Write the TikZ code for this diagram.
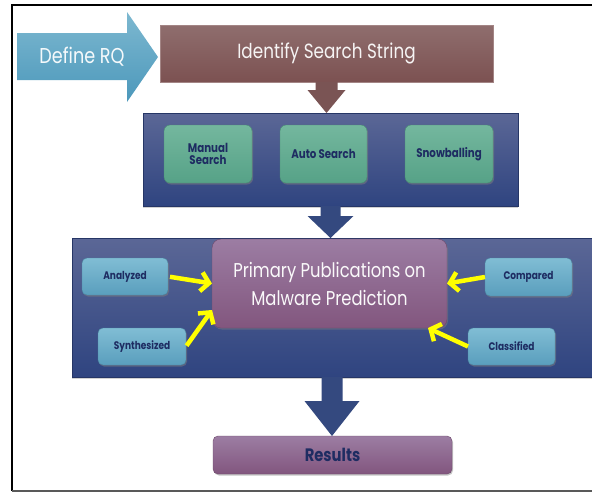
\documentclass[tikz,border=0pt]{standalone}
\usepackage{fontspec}
\newfontfamily\cg[FakeStretch=0.82]{Poppins}
\usetikzlibrary{calc,shadows,arrows.meta}
\definecolor{rqtop}{HTML}{7DB8D0}
\definecolor{rqbot}{HTML}{4C98BB}
\definecolor{brtop}{HTML}{8F6E6E}
\definecolor{brbot}{HTML}{7C5151}
\definecolor{brarrow}{HTML}{7A5454}
\definecolor{pntop}{HTML}{5B6796}
\definecolor{pnbot}{HTML}{2F4480}
\definecolor{bluearrow}{HTML}{34497F}
\definecolor{grtop}{HTML}{74B79E}
\definecolor{grbot}{HTML}{56A287}
\definecolor{pptop}{HTML}{9C7DA3}
\definecolor{ppbot}{HTML}{82567E}
\definecolor{sbtop}{HTML}{80BDD4}
\definecolor{sbbot}{HTML}{5A9EBD}
\definecolor{navy}{HTML}{1E2C62}
\definecolor{ylw}{HTML}{FFFF00}
\newcommand\blockarrow[6]{%
  \fill[#6] let \p1=(#1), \p2=(#2) in
  ({\x1-#3},\y1) -- ({\x1-#3},{\y2+#5}) -- ({\x1-#4},{\y2+#5}) -- (\x1,\y2)
  -- ({\x1+#4},{\y2+#5}) -- ({\x1+#3},{\y2+#5}) -- ({\x1+#3},\y1) -- cycle;}
\begin{document}
\begin{tikzpicture}[x=1pt,y=-1pt,
  every node/.style={inner sep=0pt, outer sep=0pt},
  panel/.style={top color=pntop, bottom color=pnbot, draw=pnbot!80!black, line width=0.4pt,
     drop shadow={shadow xshift=0pt, shadow yshift=-2pt, opacity=0.35}},
  greenbox/.style={top color=grtop, bottom color=grbot, draw=grbot!85!black, line width=0.4pt,
     rounded corners=6pt, font=\cg\bfseries\fontsize{12.5}{14}\selectfont, text=navy, align=center,
     drop shadow={shadow xshift=1pt, shadow yshift=-1.5pt, opacity=0.5}},
  smallbox/.style={top color=sbtop, bottom color=sbbot, draw=sbbot!85!black, line width=0.4pt,
     rounded corners=5pt, font=\cg\bfseries\fontsize{11}{13}\selectfont, text=navy,
     drop shadow={shadow xshift=1pt, shadow yshift=-1.5pt, opacity=0.5}},
  purplebox/.style={top color=pptop, bottom color=ppbot, draw=ppbot!85!black, line width=0.4pt,
     drop shadow={shadow xshift=1pt, shadow yshift=-1.5pt, opacity=0.45}},
  yarrow/.style={draw=ylw, line width=4.5pt, -{Straight Barb[length=8pt,width=19pt]}}
]
\useasboundingbox (0,0) rectangle (592,493);
\fill[white] (0,0) rectangle (592,493);
% frame
\draw[line width=2.5pt, black] (12,491) -- (12,5) -- (594,5);
\draw[line width=2pt, black!65] (12,491) -- (594,491);

% Define RQ arrow
\coordinate (rqtail) at (17,56.5);
\path[top color=rqtop, bottom color=rqbot]
  ($(rqtail)+(0,-23.5)$) -- ++(110,0) -- ++(0,-21) -- ++(31,45) -- ++(-31,45) -- ++(0,-22) -- ++(-110,0) -- cycle;
\node[font=\cg\fontsize{21.5}{23}\selectfont, text=white!92!rqtop] (rq) at (82,57) {Define RQ};

% Identify box
\node[top color=brtop, bottom color=brbot, draw=brbot!70!white, line width=0.4pt,
  minimum width=333pt, minimum height=57pt, font=\cg\fontsize{20.5}{24}\selectfont, text=white!92!brtop]
  (iss) at (326.5,53.5) {Identify Search String};

% panel 1
\node[panel, minimum width=375pt, minimum height=93pt] (p1) at (330.5,159.5) {};
\blockarrow{iss.south}{p1.north}{11pt}{19pt}{23pt}{brarrow}
\node[greenbox, minimum width=88pt, minimum height=58pt] (man) at (208,154) {Manual\\[-2pt]Search};
\node[greenbox, minimum width=87pt, minimum height=58pt] (auto) at (323.5,154) {Auto Search};
\node[greenbox, minimum width=88pt, minimum height=58pt] (snow) at (449,154) {Snowballing};

% panel 2
\node[panel, minimum width=524pt, minimum height=139pt] (p2) at (334,307.5) {};
\blockarrow{p1.south}{p2.north}{10pt}{23pt}{22pt}{bluearrow}
\node[purplebox, rounded corners=9pt, minimum width=235pt, minimum height=89pt,
  font=\cg\fontsize{20}{28}\selectfont, text=white!95!pptop, align=center]
  (prim) at (329.5,283.5) {Primary Publications on\\Malware Prediction};
\node[smallbox, minimum width=86pt, minimum height=37pt] (ana) at (125,276.5) {Analyzed};
\node[smallbox, minimum width=87pt, minimum height=38pt] (comp) at (528.5,277) {Compared};
\node[smallbox, minimum width=88pt, minimum height=37pt] (syn) at (142,346.5) {Synthesized};
\node[smallbox, minimum width=87pt, minimum height=37pt] (cla) at (511.5,346.5) {Classified};

\draw[yarrow, shorten <=2pt] (ana.east) -- (prim.west);
\draw[yarrow, shorten <=1pt] (syn.east) -- ([yshift=-26.5pt]prim.west);
\draw[yarrow] (comp.west) -- (prim.east);
\draw[yarrow] (cla.west) -- ([xshift=-19pt]prim.south east);

% results
\node[purplebox, rounded corners=5pt, minimum width=239pt, minimum height=38pt,
  font=\cg\bfseries\fontsize{18}{20}\selectfont, text=navy] (res) at (332.5,455) {Results};
\coordinate (p2b) at (332,377);
\blockarrow{p2b}{res.north}{10.5pt}{27.5pt}{35pt}{bluearrow}
\end{tikzpicture}
\end{document}
